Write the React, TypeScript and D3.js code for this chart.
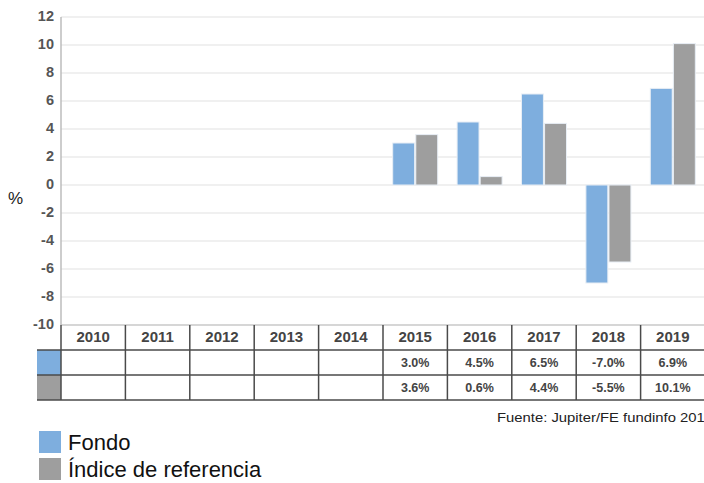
import { scaleBand, scaleLinear } from "d3";

const years = ["2010", "2011", "2012", "2013", "2014", "2015", "2016", "2017", "2018", "2019"];
const fondoValues: (number | null)[] = [null, null, null, null, null, 3.0, 4.5, 6.5, -7.0, 6.9];
const indiceValues: (number | null)[] = [null, null, null, null, null, 3.6, 0.6, 4.4, -5.5, 10.1];
const yTicks = [12, 10, 8, 6, 4, 2, 0, -2, -4, -6, -8, -10];
const seriesNames = ["Fondo", "Índice de referencia"];
const seriesColors = ["#7eaede", "#9e9e9e"];
const sourceText = "Fuente: Jupiter/FE fundinfo 2019";

const width = 704;
const height = 483;
const plotLeft = 61;
const plotRight = 705;
const plotTop = 17;
const plotBottom = 325;
const rowHeight = 25;
const swatchLeft = 37;
const font = "Arial, 'Liberation Sans', sans-serif";

function App() {
  const x = scaleBand<string>().domain(years).range([plotLeft, plotRight]).padding(0);
  const xInner = scaleBand<number>()
    .domain([0, 1])
    .range([0, x.bandwidth()])
    .paddingInner(0.05)
    .paddingOuter(0.42);
  const y = scaleLinear().domain([-10, 12]).range([plotBottom, plotTop]);
  const series = [fondoValues, indiceValues];
  const tableTop = plotBottom;
  const tableBottom = tableTop + rowHeight * 3;

  return (
    <svg
      width={width}
      height={height}
      style={{ position: "absolute", left: 0, top: 0, background: "#fff" }}
      fontFamily={font}
    >
      {/* gridlines */}
      {yTicks.map((t) => (
        <line
          key={`g-${t}`}
          x1={plotLeft}
          x2={plotRight}
          y1={y(t)}
          y2={y(t)}
          stroke={t === -10 ? "#c8c8c8" : "#ebebeb"}
          strokeWidth={1.5}
        />
      ))}
      {yTicks.map((t) => (
        <text
          key={`t-${t}`}
          x={54}
          y={y(t)}
          textAnchor="end"
          dominantBaseline="middle"
          fontSize={14.5}
          fontWeight="bold"
          fill="#555"
        >
          {t}
        </text>
      ))}
      <text x={8} y={200} fontSize={17} fill="#222" dominantBaseline="middle">
        %
      </text>
      <line x1={plotLeft} x2={plotLeft} y1={plotTop} y2={plotBottom} stroke="#bdbdbd" strokeWidth={1.5} />

      {/* bars */}
      {years.map((yr, i) => (
        <g key={`b-${yr}`} transform={`translate(${x(yr)},0)`}>
          {series.map((vals, s) => {
            const v = vals[i];
            if (v === null) {
              return null;
            }
            const y0 = y(0);
            const y1 = y(v);
            return (
              <rect
                key={s}
                x={xInner(s)}
                y={Math.min(y0, y1)}
                width={xInner.bandwidth()}
                height={Math.abs(y1 - y0)}
                fill={seriesColors[s]}
                stroke="#e8eef5"
                strokeWidth={1}
              />
            );
          })}
        </g>
      ))}

      {/* table */}
      {series.map((_, s) => (
        <rect
          key={`sw-${s}`}
          x={swatchLeft}
          y={tableTop + rowHeight * (s + 1)}
          width={plotLeft - swatchLeft}
          height={rowHeight}
          fill={seriesColors[s]}
        />
      ))}
      {[1, 2, 3].map((r) => (
        <line
          key={`h-${r}`}
          x1={swatchLeft}
          x2={plotRight}
          y1={tableTop + rowHeight * r}
          y2={tableTop + rowHeight * r}
          stroke="#4a4a4a"
          strokeWidth={1.5}
        />
      ))}
      {years.map((yr) => (
        <line
          key={`v-${yr}`}
          x1={x(yr)}
          x2={x(yr)}
          y1={tableTop}
          y2={tableBottom}
          stroke="#4a4a4a"
          strokeWidth={1.5}
        />
      ))}
      {years.map((yr, i) => {
        const cx = (x(yr) ?? 0) + x.bandwidth() / 2;
        return (
          <g key={`c-${yr}`}>
            <text
              x={cx}
              y={tableTop + rowHeight / 2 + 1}
              textAnchor="middle"
              dominantBaseline="middle"
              fontSize={15}
              fontWeight="bold"
              fill="#444"
            >
              {yr}
            </text>
            {series.map((vals, s) => {
              const v = vals[i];
              if (v === null) {
                return null;
              }
              return (
                <text
                  key={s}
                  x={cx}
                  y={tableTop + rowHeight * (s + 1.5) + 1}
                  textAnchor="middle"
                  dominantBaseline="middle"
                  fontSize={12.5}
                  fontWeight="bold"
                  fill="#444"
                >
                  {`${v.toFixed(1)}%`}
                </text>
              );
            })}
          </g>
        );
      })}

      <text x={497} y={422} fontSize={12} fill="#222" textLength={216} lengthAdjust="spacingAndGlyphs">
        {sourceText}
      </text>

      {/* legend */}
      {seriesNames.map((name, s) => (
        <g key={`l-${s}`} transform={`translate(39, ${431 + s * 27})`}>
          <rect x={0} y={0} width={22} height={22} fill={seriesColors[s]} />
          <text x={29} y={19} fontSize={22} fill="#111">
            {name}
          </text>
        </g>
      ))}
    </svg>
  );
}

export default App;
